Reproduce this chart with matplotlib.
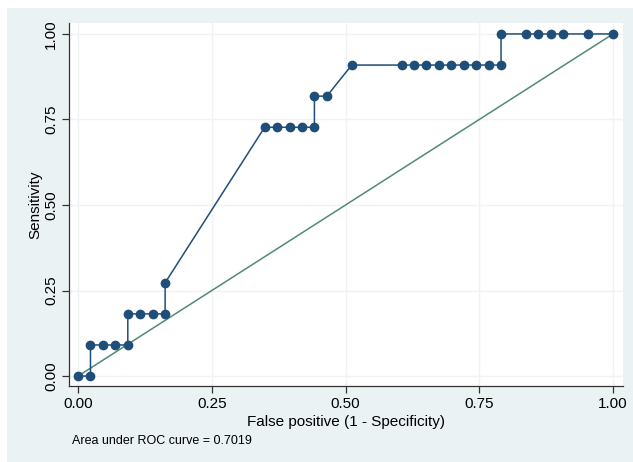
import matplotlib
matplotlib.use("Agg")
import matplotlib.pyplot as plt
from matplotlib.patches import Rectangle

# ROC points: false positive rate (k/43) and sensitivity (k/11)
fp_counts = [0, 1, 1, 2, 3, 4, 4, 5, 6, 7, 7, 15, 16, 17, 18, 19, 19, 20, 22,
             26, 27, 28, 29, 30, 31, 32, 33, 34, 34, 36, 37, 38, 39, 41, 43]
tp_counts = [0, 0, 1, 1, 1, 1, 2, 2, 2, 2, 3, 8, 8, 8, 8, 8, 9, 9, 10,
             10, 10, 10, 10, 10, 10, 10, 10, 10, 11, 11, 11, 11, 11, 11, 11]
n_neg = 43
n_pos = 11
fpr = [c / n_neg for c in fp_counts]
sens = [c / n_pos for c in tp_counts]
ticks = [0.0, 0.25, 0.5, 0.75, 1.0]
tick_labels = ["0.00", "0.25", "0.50", "0.75", "1.00"]
auc_text = "Area under ROC curve = 0.7019"

plt.rcParams['font.family'] = ['Liberation Sans', 'DejaVu Sans']

fig = plt.figure(figsize=(6.33, 4.62), dpi=100, facecolor="white")
bg = Rectangle((7 / 633, 0), 1 - 7 / 633, 1 - 8 / 462, transform=fig.transFigure,
               facecolor="#eaf2f3", edgecolor="none", zorder=-10)
fig.add_artist(bg)

ax = fig.add_axes([69 / 633, 1 - 386 / 462, (623 - 69) / 633, (386 - 23) / 462])
ax.set_zorder(1)
ax.set_facecolor("white")

ax.plot([0, 1], [0, 1], color="#4f8a78", lw=1.1, zorder=2)
ax.plot(fpr, sens, color="#1f4f78", lw=1.1, marker="o", markersize=6,
        markerfacecolor="#1f4f78", markeredgecolor="#1f4f78", zorder=3)

ax.set_xlim(-0.0169, 1.0187)
ax.set_ylim(-0.029, 1.032)
ax.set_xticks(ticks)
ax.set_xticklabels(tick_labels, fontsize=11)
ax.set_yticks(ticks)
ax.set_yticklabels(tick_labels, fontsize=11, rotation=90, va="center")
ax.grid(True, color="#f0f3f3", lw=1.0)
ax.set_axisbelow(True)
for s in ["top", "right"]:
    ax.spines[s].set_visible(False)
for s in ["left", "bottom"]:
    ax.spines[s].set_color("#333333")
    ax.spines[s].set_linewidth(0.9)
ax.tick_params(direction="out", length=5, width=0.9, color="#333333", pad=3)
ax.set_xlabel("False positive (1 - Specificity)", fontsize=11, labelpad=3)
ax.set_ylabel("Sensitivity", fontsize=11, labelpad=1)

fig.text(72 / 633, 1 - 441 / 462, auc_text, fontsize=9, va="center", ha="left")

fig.savefig("out.png", dpi=100, facecolor=fig.get_facecolor())
